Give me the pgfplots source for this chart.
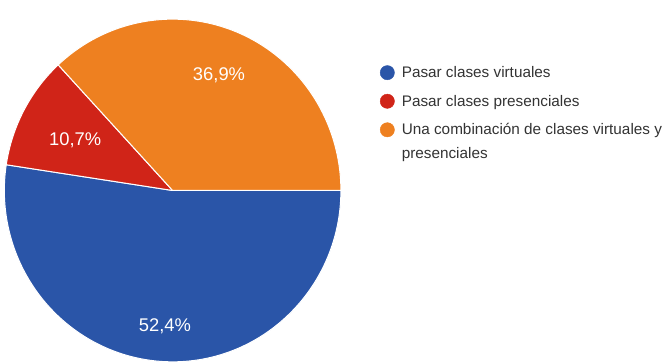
\documentclass[border=0pt]{standalone}
\usepackage{pgfplots}
\usepackage{pgfplotstable}
\pgfplotsset{compat=1.18}
\usepackage{fontspec}
\setmainfont{Liberation Sans}
\definecolor{pblue}{RGB}{42,85,168}
\definecolor{pred}{RGB}{208,36,24}
\definecolor{porange}{RGB}{238,128,32}
\pgfplotstableread{
value color
52.4 pblue
10.7 pred
36.9 porange
}\piedata
\begin{document}
\begin{tikzpicture}
\begin{axis}[x=1pt,y=1pt,xmin=0,xmax=662,ymin=0,ymax=353,hide axis,clip=false,scale only axis]
\pgfmathsetmacro{\startang}{0}
\pgfplotsforeachungrouped \i in {0,1,2}{%
  \pgfplotstablegetelem{\i}{value}\of\piedata \let\v\pgfplotsretval
  \pgfplotstablegetelem{\i}{color}\of\piedata \let\c\pgfplotsretval
  \pgfmathsetmacro{\endang}{\startang - 3.6*\v}%
  \edef\temp{\noexpand\fill[\c, draw=white, line width=1pt, line join=round]
    (axis cs:177.5,171.5) -- ++(\startang:165pt and 168pt)
    arc[start angle=\startang, end angle=\endang, x radius=165pt, y radius=168pt] -- cycle;}%
  \temp
  \global\let\startang\endang
}
% legend markers
\addplot[only marks, mark=*, mark size=7pt, color=pblue] coordinates {(388,287)};
\addplot[only marks, mark=*, mark size=7pt, color=pred] coordinates {(388,259)};
\addplot[only marks, mark=*, mark size=7pt, color=porange] coordinates {(388,231)};
% legend texts
\begin{scope}[every node/.style={anchor=base west, inner sep=0pt, text=black!80, font=\fontsize{15}{18}\selectfont}]
\node at (axis cs:402,282) {Pasar clases virtuales};
\node at (axis cs:402,254) {Pasar clases presenciales};
\node at (axis cs:402,226) {Una combinación de clases virtuales y};
\node at (axis cs:402,203) {presenciales};
\end{scope}
% slice labels
\begin{scope}[every node/.style={inner sep=0pt, text=white, font=\fontsize{18}{21}\selectfont}]
\node at (axis cs:223,284) {36,9\%};
\node at (axis cs:82,221) {10,7\%};
\node at (axis cs:170,38) {52,4\%};
\end{scope}
\end{axis}
\end{tikzpicture}
\end{document}
